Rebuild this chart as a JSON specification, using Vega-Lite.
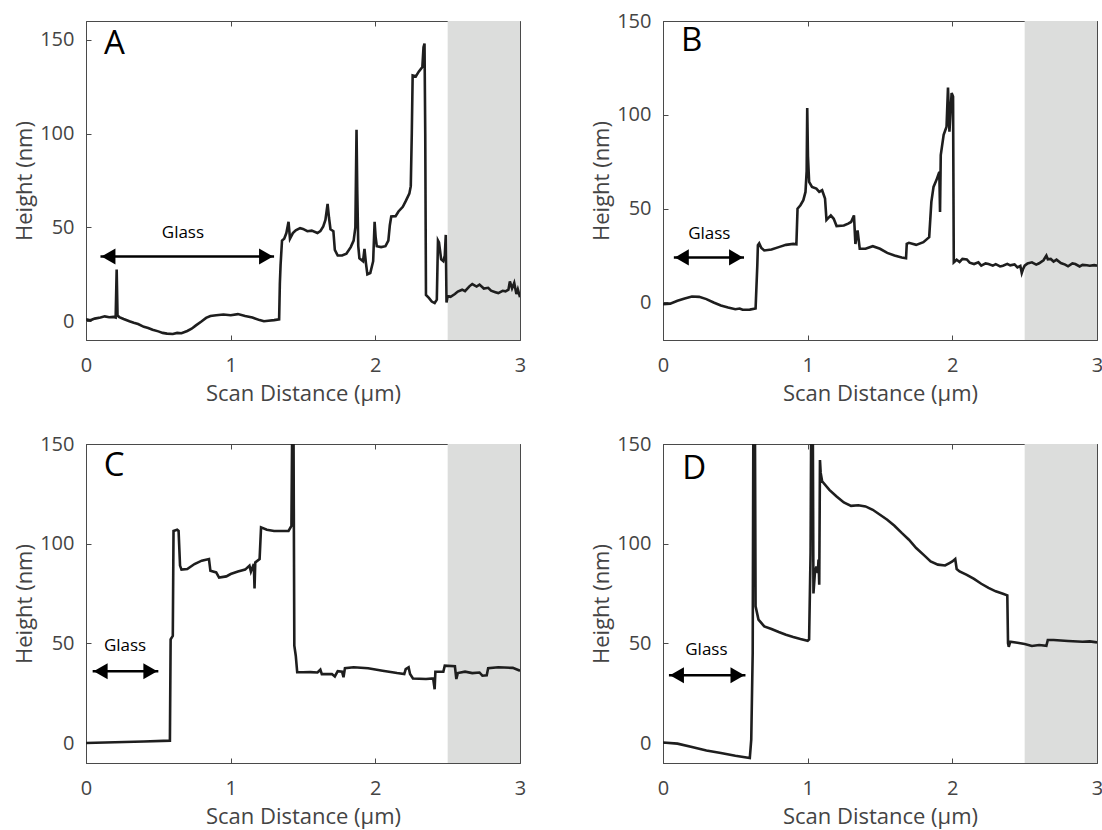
{
  "$schema": "https://vega.github.io/schema/vega-lite/v6.json",
  "padding": {"left": 13, "top": 10, "right": 5, "bottom": 5},
  "background": "white",
  "columns": 2,
  "spacing": {"row": 104, "column": 143},
  "bounds": "flush",
  "datasets": {
    "A": [
      {"x":0,"h":1},{"x":0.03,"h":0.5},{"x":0.06,"h":1.4},{"x":0.1,"h":2},{"x":0.13,"h":2.6},{"x":0.16,"h":2.1},{"x":0.19,"h":2.3},{"x":0.205,"h":2},{"x":0.212,"h":27.5},{"x":0.218,"h":3},{"x":0.23,"h":2.2},{"x":0.26,"h":1.2},{"x":0.3,"h":0},{"x":0.33,"h":-0.8},{"x":0.36,"h":-1.5},{"x":0.4,"h":-3},{"x":0.43,"h":-3.6},{"x":0.46,"h":-4.5},{"x":0.5,"h":-5.4},{"x":0.53,"h":-6.2},{"x":0.56,"h":-6.6},{"x":0.6,"h":-6.8},{"x":0.63,"h":-6.2},{"x":0.66,"h":-6.4},{"x":0.7,"h":-5.2},{"x":0.73,"h":-4},{"x":0.76,"h":-2.2},{"x":0.8,"h":0},{"x":0.83,"h":1.8},{"x":0.86,"h":2.8},{"x":0.9,"h":3.2},{"x":0.95,"h":3.6},{"x":1.0,"h":3.2},{"x":1.05,"h":3.8},{"x":1.1,"h":2.8},{"x":1.15,"h":2},{"x":1.2,"h":0.6},{"x":1.23,"h":0},{"x":1.26,"h":0.3},{"x":1.3,"h":0.6},{"x":1.335,"h":1},{"x":1.34,"h":20},{"x":1.345,"h":30},{"x":1.355,"h":43},{"x":1.37,"h":44},{"x":1.385,"h":47},{"x":1.4,"h":53},{"x":1.41,"h":44},{"x":1.43,"h":47},{"x":1.45,"h":48.5},{"x":1.48,"h":49.6},{"x":1.5,"h":49.2},{"x":1.53,"h":48},{"x":1.56,"h":48.3},{"x":1.6,"h":47},{"x":1.62,"h":48},{"x":1.64,"h":50.5},{"x":1.655,"h":54},{"x":1.67,"h":62.5},{"x":1.68,"h":55},{"x":1.69,"h":49},{"x":1.71,"h":48},{"x":1.72,"h":38},{"x":1.74,"h":35},{"x":1.77,"h":35},{"x":1.8,"h":36},{"x":1.83,"h":39.5},{"x":1.85,"h":43},{"x":1.862,"h":50},{"x":1.87,"h":102},{"x":1.875,"h":70},{"x":1.882,"h":40},{"x":1.89,"h":33.5},{"x":1.915,"h":32},{"x":1.925,"h":38.5},{"x":1.935,"h":31},{"x":1.945,"h":25},{"x":1.965,"h":25.7},{"x":1.985,"h":32},{"x":1.995,"h":53},{"x":2.002,"h":45},{"x":2.01,"h":40},{"x":2.04,"h":39.5},{"x":2.07,"h":40},{"x":2.09,"h":43},{"x":2.1,"h":51},{"x":2.11,"h":55.8},{"x":2.14,"h":56},{"x":2.16,"h":58.5},{"x":2.19,"h":61},{"x":2.21,"h":64},{"x":2.235,"h":68},{"x":2.245,"h":72},{"x":2.252,"h":100},{"x":2.258,"h":131},{"x":2.28,"h":130.5},{"x":2.3,"h":133},{"x":2.325,"h":135.5},{"x":2.333,"h":146},{"x":2.34,"h":148},{"x":2.345,"h":100},{"x":2.35,"h":14},{"x":2.37,"h":12.4},{"x":2.39,"h":10.5},{"x":2.41,"h":9.7},{"x":2.425,"h":11.5},{"x":2.433,"h":43},{"x":2.44,"h":42},{"x":2.455,"h":33},{"x":2.47,"h":32},{"x":2.48,"h":35},{"x":2.487,"h":46},{"x":2.492,"h":10},{"x":2.5,"h":13.5},{"x":2.52,"h":13},{"x":2.55,"h":14.5},{"x":2.57,"h":15.8},{"x":2.6,"h":16.8},{"x":2.62,"h":16},{"x":2.65,"h":18.6},{"x":2.67,"h":19.8},{"x":2.7,"h":18.5},{"x":2.72,"h":19.5},{"x":2.75,"h":17.4},{"x":2.78,"h":17.8},{"x":2.8,"h":16.3},{"x":2.83,"h":15.5},{"x":2.85,"h":15},{"x":2.88,"h":16.2},{"x":2.9,"h":15.9},{"x":2.92,"h":16.8},{"x":2.93,"h":21.2},{"x":2.945,"h":17.5},{"x":2.96,"h":20.4},{"x":2.975,"h":14.5},{"x":2.985,"h":17},{"x":3.0,"h":12.8}
    ],
    "B": [
      {"x":0,"h":-0.9},{"x":0.05,"h":-0.6},{"x":0.1,"h":0.9},{"x":0.15,"h":2.1},{"x":0.2,"h":3.2},{"x":0.25,"h":3},{"x":0.3,"h":1.8},{"x":0.35,"h":0},{"x":0.4,"h":-1.6},{"x":0.45,"h":-2.7},{"x":0.5,"h":-3.6},{"x":0.53,"h":-3.2},{"x":0.55,"h":-3.9},{"x":0.6,"h":-3.8},{"x":0.64,"h":-3.2},{"x":0.652,"h":20},{"x":0.656,"h":30.5},{"x":0.665,"h":31.5},{"x":0.68,"h":29},{"x":0.7,"h":27.7},{"x":0.75,"h":28.2},{"x":0.8,"h":29.5},{"x":0.85,"h":30.7},{"x":0.9,"h":31.2},{"x":0.922,"h":31},{"x":0.93,"h":50},{"x":0.95,"h":51.8},{"x":0.97,"h":54.5},{"x":0.985,"h":58.9},{"x":0.993,"h":70},{"x":0.997,"h":103.6},{"x":1.002,"h":78},{"x":1.01,"h":64.3},{"x":1.03,"h":61.6},{"x":1.06,"h":60.7},{"x":1.08,"h":58.9},{"x":1.1,"h":59.8},{"x":1.12,"h":55.4},{"x":1.13,"h":44},{"x":1.16,"h":46.4},{"x":1.18,"h":44.6},{"x":1.2,"h":40.7},{"x":1.25,"h":41},{"x":1.28,"h":42},{"x":1.3,"h":42.9},{"x":1.32,"h":46.4},{"x":1.33,"h":31.2},{"x":1.345,"h":38.4},{"x":1.36,"h":28.6},{"x":1.4,"h":28.6},{"x":1.45,"h":30},{"x":1.5,"h":28.6},{"x":1.55,"h":26.4},{"x":1.6,"h":25},{"x":1.65,"h":24},{"x":1.68,"h":23.6},{"x":1.685,"h":31.2},{"x":1.7,"h":31.8},{"x":1.75,"h":30.7},{"x":1.8,"h":32.1},{"x":1.84,"h":34.8},{"x":1.855,"h":53.6},{"x":1.87,"h":61.6},{"x":1.89,"h":65.2},{"x":1.91,"h":69.6},{"x":1.915,"h":48.2},{"x":1.92,"h":78.6},{"x":1.94,"h":89.3},{"x":1.96,"h":93.7},{"x":1.97,"h":114.6},{"x":1.98,"h":91},{"x":1.995,"h":111.6},{"x":2.005,"h":109.8},{"x":2.01,"h":21.4},{"x":2.03,"h":22.8},{"x":2.05,"h":21.6},{"x":2.07,"h":23.2},{"x":2.1,"h":22.9},{"x":2.12,"h":21.2},{"x":2.15,"h":20.5},{"x":2.18,"h":21.4},{"x":2.2,"h":19.6},{"x":2.23,"h":20.8},{"x":2.25,"h":20.5},{"x":2.28,"h":19.6},{"x":2.3,"h":20.4},{"x":2.33,"h":19.2},{"x":2.35,"h":19.6},{"x":2.38,"h":20.6},{"x":2.4,"h":19.8},{"x":2.43,"h":20.3},{"x":2.45,"h":18.7},{"x":2.47,"h":19.5},{"x":2.48,"h":15.7},{"x":2.49,"h":18},{"x":2.5,"h":19.6},{"x":2.52,"h":20.8},{"x":2.55,"h":21.4},{"x":2.58,"h":20.2},{"x":2.6,"h":20.9},{"x":2.63,"h":22.5},{"x":2.65,"h":25},{"x":2.66,"h":23},{"x":2.68,"h":23.2},{"x":2.7,"h":21.8},{"x":2.72,"h":22.8},{"x":2.75,"h":21},{"x":2.78,"h":20.2},{"x":2.8,"h":19.3},{"x":2.83,"h":20.8},{"x":2.85,"h":20.5},{"x":2.88,"h":19.2},{"x":2.9,"h":20},{"x":2.93,"h":19.8},{"x":2.95,"h":19.6},{"x":2.98,"h":19.9},{"x":3.0,"h":19.6}
    ],
    "C": [
      {"x":0,"h":0},{"x":0.2,"h":0.4},{"x":0.4,"h":0.8},{"x":0.58,"h":1.2},{"x":0.585,"h":52},{"x":0.6,"h":53.8},{"x":0.605,"h":106.4},{"x":0.63,"h":107},{"x":0.64,"h":106.4},{"x":0.65,"h":89},{"x":0.66,"h":87},{"x":0.7,"h":87.3},{"x":0.75,"h":89.8},{"x":0.8,"h":91.5},{"x":0.85,"h":92.3},{"x":0.86,"h":86.4},{"x":0.9,"h":85.6},{"x":0.92,"h":83},{"x":0.97,"h":83.6},{"x":1.0,"h":84.8},{"x":1.05,"h":86},{"x":1.1,"h":87},{"x":1.13,"h":89},{"x":1.14,"h":86},{"x":1.16,"h":89.8},{"x":1.165,"h":77.6},{"x":1.17,"h":90.6},{"x":1.2,"h":92.3},{"x":1.21,"h":108.2},{"x":1.25,"h":107},{"x":1.3,"h":106.4},{"x":1.4,"h":106.4},{"x":1.42,"h":108.9},{"x":1.426,"h":165},{"x":1.434,"h":165},{"x":1.44,"h":48.8},{"x":1.45,"h":43.8},{"x":1.46,"h":35.5},{"x":1.5,"h":35.5},{"x":1.55,"h":35.6},{"x":1.6,"h":35.4},{"x":1.62,"h":36.8},{"x":1.63,"h":34.6},{"x":1.7,"h":34.6},{"x":1.72,"h":33.4},{"x":1.74,"h":36.1},{"x":1.77,"h":35.8},{"x":1.78,"h":33},{"x":1.79,"h":37.6},{"x":1.85,"h":38},{"x":1.95,"h":37.5},{"x":2.05,"h":36.3},{"x":2.15,"h":35.1},{"x":2.2,"h":34.6},{"x":2.21,"h":37.1},{"x":2.23,"h":38},{"x":2.24,"h":34.6},{"x":2.26,"h":32.4},{"x":2.35,"h":32.1},{"x":2.4,"h":32.4},{"x":2.41,"h":27},{"x":2.415,"h":35.8},{"x":2.47,"h":35.8},{"x":2.48,"h":38.8},{"x":2.55,"h":38.5},{"x":2.56,"h":32.1},{"x":2.57,"h":35.1},{"x":2.62,"h":35.8},{"x":2.67,"h":35.1},{"x":2.72,"h":35.4},{"x":2.74,"h":33.8},{"x":2.77,"h":34},{"x":2.78,"h":37.6},{"x":2.85,"h":38},{"x":2.95,"h":37.7},{"x":3.0,"h":36.3}
    ],
    "D": [
      {"x":0,"h":0.3},{"x":0.1,"h":-0.3},{"x":0.2,"h":-2},{"x":0.3,"h":-3.7},{"x":0.4,"h":-5},{"x":0.5,"h":-6.4},{"x":0.6,"h":-7.5},{"x":0.61,"h":1.7},{"x":0.62,"h":45},{"x":0.625,"h":170},{"x":0.635,"h":170},{"x":0.64,"h":68.6},{"x":0.66,"h":61.9},{"x":0.7,"h":58.5},{"x":0.75,"h":57.2},{"x":0.8,"h":55.7},{"x":0.85,"h":54.3},{"x":0.9,"h":53.2},{"x":0.95,"h":52.2},{"x":1.0,"h":51.3},{"x":1.01,"h":52},{"x":1.02,"h":95.3},{"x":1.025,"h":170},{"x":1.035,"h":170},{"x":1.04,"h":75},{"x":1.05,"h":85.3},{"x":1.06,"h":88.6},{"x":1.07,"h":85.3},{"x":1.075,"h":92},{"x":1.08,"h":79.4},{"x":1.085,"h":142},{"x":1.09,"h":135.5},{"x":1.1,"h":131.3},{"x":1.15,"h":127},{"x":1.2,"h":123.7},{"x":1.25,"h":120.7},{"x":1.3,"h":119},{"x":1.35,"h":119.3},{"x":1.4,"h":118.7},{"x":1.45,"h":117},{"x":1.5,"h":114.5},{"x":1.55,"h":112},{"x":1.6,"h":109},{"x":1.65,"h":105.4},{"x":1.7,"h":102},{"x":1.75,"h":97.8},{"x":1.8,"h":94.5},{"x":1.85,"h":91.1},{"x":1.9,"h":89.5},{"x":1.95,"h":89.1},{"x":1.98,"h":90.3},{"x":2.0,"h":91.1},{"x":2.02,"h":92.3},{"x":2.03,"h":87.3},{"x":2.05,"h":86.1},{"x":2.1,"h":84.4},{"x":2.15,"h":82.3},{"x":2.2,"h":79.9},{"x":2.25,"h":77.8},{"x":2.3,"h":76.1},{"x":2.35,"h":74.9},{"x":2.38,"h":74.1},{"x":2.385,"h":50},{"x":2.39,"h":48.3},{"x":2.4,"h":50.8},{"x":2.45,"h":50.3},{"x":2.5,"h":49.7},{"x":2.55,"h":48.7},{"x":2.6,"h":49.2},{"x":2.65,"h":48.8},{"x":2.66,"h":51.7},{"x":2.7,"h":51.7},{"x":2.8,"h":51.2},{"x":2.9,"h":50.8},{"x":2.95,"h":51},{"x":3.0,"h":50.5}
    ],
    "annA": [{"x":0.197,"h":142.5,"t":"A","gx":0.67,"gh":47,"x1":0.1,"x2":1.3,"ah":34.5}],
    "annB": [{"x":0.198,"h":134,"t":"B","gx":0.32,"gh":36.6,"x1":0.075,"x2":0.56,"ah":24}],
    "annC": [{"x":0.194,"h":134,"t":"C","gx":0.27,"gh":48.5,"x1":0.046,"x2":0.5,"ah":36}],
    "annD": [{"x":0.216,"h":132.5,"t":"D","gx":0.3,"gh":46.5,"x1":0.041,"x2":0.57,"ah":34}],
    "shade": [{"a":2.5,"b":3}]
  },
  "concat": [
    {
      "width": 434, "height": 319,
      "resolve": {"axis": {"x": "independent", "y": "independent"}},
      "layer": [
        {"data": {"name": "shade"}, "mark": {"type": "rect", "color": "#dcdddc"},
         "encoding": {"x": {"field": "a", "type": "quantitative", "scale": {"domain": [0, 3], "nice": false, "zero": false}, "axis": {"orient": "top", "labels": false, "title": null, "domain": false, "values": [0, 1, 2, 3]}}, "x2": {"field": "b"}}},
        {"data": {"name": "A"}, "mark": {"type": "line", "color": "#1e1e1e", "strokeWidth": 2.6, "clip": true},
         "encoding": {"x": {"field": "x", "type": "quantitative", "scale": {"domain": [0, 3], "nice": false, "zero": false}, "axis": {"orient": "bottom", "title": "Scan Distance (µm)", "values": [0, 1, 2, 3]}},
                      "y": {"field": "h", "type": "quantitative", "scale": {"domain": [-10, 160], "nice": false, "zero": false}, "axis": {"orient": "left", "title": "Height (nm)", "values": [0, 50, 100, 150]}}}},
        {"data": {"name": "annA"}, "mark": {"type": "text", "fontSize": 33, "baseline": "alphabetic", "align": "center", "color": "black"},
         "encoding": {"x": {"field": "x", "type": "quantitative", "axis": null}, "y": {"field": "h", "type": "quantitative", "scale": {"domain": [-10, 160], "nice": false, "zero": false}, "axis": {"orient": "right", "labels": false, "title": null, "domain": false, "values": [0, 50, 100, 150]}}, "text": {"field": "t"}}},
        {"data": {"name": "annA"}, "mark": {"type": "text", "fontSize": 17, "baseline": "middle", "align": "center", "color": "black", "text": "Glass"},
         "encoding": {"x": {"field": "gx", "type": "quantitative", "axis": null}, "y": {"field": "gh", "type": "quantitative", "axis": null}}},
        {"data": {"name": "annA"}, "mark": {"type": "rule", "color": "black", "strokeWidth": 2.5},
         "encoding": {"x": {"field": "x1", "type": "quantitative", "axis": null}, "x2": {"field": "x2"}, "y": {"field": "ah", "type": "quantitative", "axis": null}}},
        {"data": {"name": "annA"}, "mark": {"type": "point", "shape": "triangle-left", "filled": true, "color": "black", "opacity": 1, "size": 260, "xOffset": 8},
         "encoding": {"x": {"field": "x1", "type": "quantitative", "axis": null}, "y": {"field": "ah", "type": "quantitative", "axis": null}}},
        {"data": {"name": "annA"}, "mark": {"type": "point", "shape": "triangle-right", "filled": true, "color": "black", "opacity": 1, "size": 260, "xOffset": -8},
         "encoding": {"x": {"field": "x2", "type": "quantitative", "axis": null}, "y": {"field": "ah", "type": "quantitative", "axis": null}}}
      ]
    },
    {
      "width": 434, "height": 319,
      "resolve": {"axis": {"x": "independent", "y": "independent"}},
      "layer": [
        {"data": {"name": "shade"}, "mark": {"type": "rect", "color": "#dcdddc"},
         "encoding": {"x": {"field": "a", "type": "quantitative", "scale": {"domain": [0, 3], "nice": false, "zero": false}, "axis": {"orient": "top", "labels": false, "title": null, "domain": false, "values": [0, 1, 2, 3]}}, "x2": {"field": "b"}}},
        {"data": {"name": "B"}, "mark": {"type": "line", "color": "#1e1e1e", "strokeWidth": 2.6, "clip": true},
         "encoding": {"x": {"field": "x", "type": "quantitative", "scale": {"domain": [0, 3], "nice": false, "zero": false}, "axis": {"orient": "bottom", "title": "Scan Distance (µm)", "values": [0, 1, 2, 3]}},
                      "y": {"field": "h", "type": "quantitative", "scale": {"domain": [-20, 150], "nice": false, "zero": false}, "axis": {"orient": "left", "title": "Height (nm)", "values": [0, 50, 100, 150]}}}},
        {"data": {"name": "annB"}, "mark": {"type": "text", "fontSize": 33, "baseline": "alphabetic", "align": "center", "color": "black"},
         "encoding": {"x": {"field": "x", "type": "quantitative", "axis": null}, "y": {"field": "h", "type": "quantitative", "scale": {"domain": [-20, 150], "nice": false, "zero": false}, "axis": {"orient": "right", "labels": false, "title": null, "domain": false, "values": [0, 50, 100, 150]}}, "text": {"field": "t"}}},
        {"data": {"name": "annB"}, "mark": {"type": "text", "fontSize": 17, "baseline": "middle", "align": "center", "color": "black", "text": "Glass"},
         "encoding": {"x": {"field": "gx", "type": "quantitative", "axis": null}, "y": {"field": "gh", "type": "quantitative", "axis": null}}},
        {"data": {"name": "annB"}, "mark": {"type": "rule", "color": "black", "strokeWidth": 2.5},
         "encoding": {"x": {"field": "x1", "type": "quantitative", "axis": null}, "x2": {"field": "x2"}, "y": {"field": "ah", "type": "quantitative", "axis": null}}},
        {"data": {"name": "annB"}, "mark": {"type": "point", "shape": "triangle-left", "filled": true, "color": "black", "opacity": 1, "size": 260, "xOffset": 8},
         "encoding": {"x": {"field": "x1", "type": "quantitative", "axis": null}, "y": {"field": "ah", "type": "quantitative", "axis": null}}},
        {"data": {"name": "annB"}, "mark": {"type": "point", "shape": "triangle-right", "filled": true, "color": "black", "opacity": 1, "size": 260, "xOffset": -8},
         "encoding": {"x": {"field": "x2", "type": "quantitative", "axis": null}, "y": {"field": "ah", "type": "quantitative", "axis": null}}}
      ]
    },
    {
      "width": 434, "height": 319,
      "resolve": {"axis": {"x": "independent", "y": "independent"}},
      "layer": [
        {"data": {"name": "shade"}, "mark": {"type": "rect", "color": "#dcdddc"},
         "encoding": {"x": {"field": "a", "type": "quantitative", "scale": {"domain": [0, 3], "nice": false, "zero": false}, "axis": {"orient": "top", "labels": false, "title": null, "domain": false, "values": [0, 1, 2, 3]}}, "x2": {"field": "b"}}},
        {"data": {"name": "C"}, "mark": {"type": "line", "color": "#1e1e1e", "strokeWidth": 2.6, "clip": true},
         "encoding": {"x": {"field": "x", "type": "quantitative", "scale": {"domain": [0, 3], "nice": false, "zero": false}, "axis": {"orient": "bottom", "title": "Scan Distance (µm)", "values": [0, 1, 2, 3]}},
                      "y": {"field": "h", "type": "quantitative", "scale": {"domain": [-10, 150], "nice": false, "zero": false}, "axis": {"orient": "left", "title": "Height (nm)", "values": [0, 50, 100, 150]}}}},
        {"data": {"name": "annC"}, "mark": {"type": "text", "fontSize": 33, "baseline": "alphabetic", "align": "center", "color": "black"},
         "encoding": {"x": {"field": "x", "type": "quantitative", "axis": null}, "y": {"field": "h", "type": "quantitative", "scale": {"domain": [-10, 150], "nice": false, "zero": false}, "axis": {"orient": "right", "labels": false, "title": null, "domain": false, "values": [0, 50, 100, 150]}}, "text": {"field": "t"}}},
        {"data": {"name": "annC"}, "mark": {"type": "text", "fontSize": 17, "baseline": "middle", "align": "center", "color": "black", "text": "Glass"},
         "encoding": {"x": {"field": "gx", "type": "quantitative", "axis": null}, "y": {"field": "gh", "type": "quantitative", "axis": null}}},
        {"data": {"name": "annC"}, "mark": {"type": "rule", "color": "black", "strokeWidth": 2.5},
         "encoding": {"x": {"field": "x1", "type": "quantitative", "axis": null}, "x2": {"field": "x2"}, "y": {"field": "ah", "type": "quantitative", "axis": null}}},
        {"data": {"name": "annC"}, "mark": {"type": "point", "shape": "triangle-left", "filled": true, "color": "black", "opacity": 1, "size": 260, "xOffset": 8},
         "encoding": {"x": {"field": "x1", "type": "quantitative", "axis": null}, "y": {"field": "ah", "type": "quantitative", "axis": null}}},
        {"data": {"name": "annC"}, "mark": {"type": "point", "shape": "triangle-right", "filled": true, "color": "black", "opacity": 1, "size": 260, "xOffset": -8},
         "encoding": {"x": {"field": "x2", "type": "quantitative", "axis": null}, "y": {"field": "ah", "type": "quantitative", "axis": null}}}
      ]
    },
    {
      "width": 434, "height": 319,
      "resolve": {"axis": {"x": "independent", "y": "independent"}},
      "layer": [
        {"data": {"name": "shade"}, "mark": {"type": "rect", "color": "#dcdddc"},
         "encoding": {"x": {"field": "a", "type": "quantitative", "scale": {"domain": [0, 3], "nice": false, "zero": false}, "axis": {"orient": "top", "labels": false, "title": null, "domain": false, "values": [0, 1, 2, 3]}}, "x2": {"field": "b"}}},
        {"data": {"name": "D"}, "mark": {"type": "line", "color": "#1e1e1e", "strokeWidth": 2.6, "clip": true},
         "encoding": {"x": {"field": "x", "type": "quantitative", "scale": {"domain": [0, 3], "nice": false, "zero": false}, "axis": {"orient": "bottom", "title": "Scan Distance (µm)", "values": [0, 1, 2, 3]}},
                      "y": {"field": "h", "type": "quantitative", "scale": {"domain": [-10, 150], "nice": false, "zero": false}, "axis": {"orient": "left", "title": "Height (nm)", "values": [0, 50, 100, 150]}}}},
        {"data": {"name": "annD"}, "mark": {"type": "text", "fontSize": 33, "baseline": "alphabetic", "align": "center", "color": "black"},
         "encoding": {"x": {"field": "x", "type": "quantitative", "axis": null}, "y": {"field": "h", "type": "quantitative", "scale": {"domain": [-10, 150], "nice": false, "zero": false}, "axis": {"orient": "right", "labels": false, "title": null, "domain": false, "values": [0, 50, 100, 150]}}, "text": {"field": "t"}}},
        {"data": {"name": "annD"}, "mark": {"type": "text", "fontSize": 17, "baseline": "middle", "align": "center", "color": "black", "text": "Glass"},
         "encoding": {"x": {"field": "gx", "type": "quantitative", "axis": null}, "y": {"field": "gh", "type": "quantitative", "axis": null}}},
        {"data": {"name": "annD"}, "mark": {"type": "rule", "color": "black", "strokeWidth": 2.5},
         "encoding": {"x": {"field": "x1", "type": "quantitative", "axis": null}, "x2": {"field": "x2"}, "y": {"field": "ah", "type": "quantitative", "axis": null}}},
        {"data": {"name": "annD"}, "mark": {"type": "point", "shape": "triangle-left", "filled": true, "color": "black", "opacity": 1, "size": 260, "xOffset": 8},
         "encoding": {"x": {"field": "x1", "type": "quantitative", "axis": null}, "y": {"field": "ah", "type": "quantitative", "axis": null}}},
        {"data": {"name": "annD"}, "mark": {"type": "point", "shape": "triangle-right", "filled": true, "color": "black", "opacity": 1, "size": 260, "xOffset": -8},
         "encoding": {"x": {"field": "x2", "type": "quantitative", "axis": null}, "y": {"field": "ah", "type": "quantitative", "axis": null}}}
      ]
    }
  ],
  "config": {
    "font": "Open Sans",
    "view": {"stroke": "#4a4a4a", "strokeWidth": 1},
    "axis": {
      "grid": false,
      "domainColor": "#4a4a4a",
      "tickColor": "#4a4a4a",
      "tickSize": -5,
      "labelFont": "Open Sans",
      "labelFontSize": 20,
      "labelColor": "#444444",
      "labelFlush": false,
      "labelOverlap": false,
      "titleFont": "Open Sans",
      "titleFontSize": 22,
      "titleFontWeight": "normal",
      "titleColor": "#444444"
    },
    "axisX": {"labelPadding": 20, "titlePadding": 8},
    "axisY": {"labelPadding": 17, "titlePadding": 3}
  }
}
